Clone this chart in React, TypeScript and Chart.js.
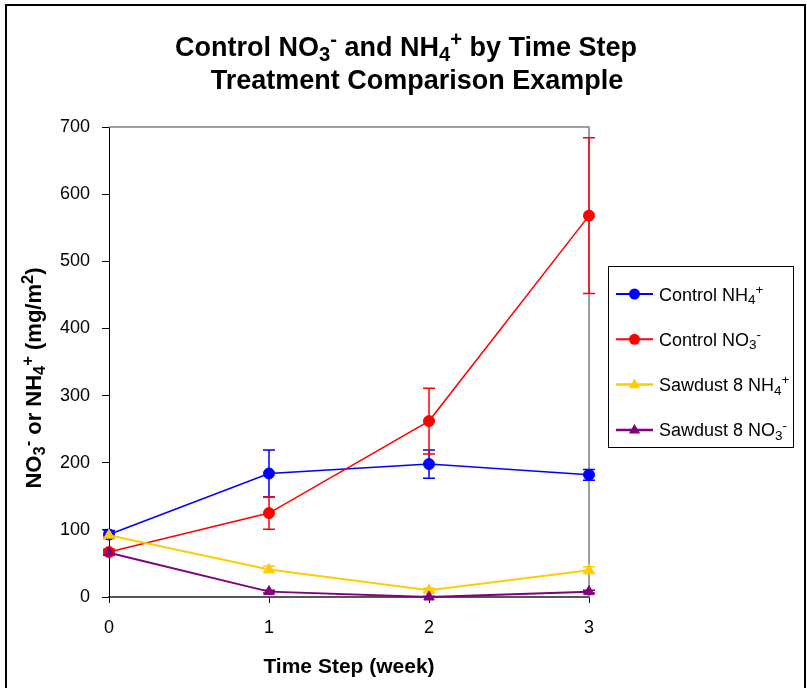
import React, { useEffect, useRef } from 'react';
import { Chart, registerables } from 'chart.js';

Chart.register(...registerables);

// ---- data ----
const timeSteps = ['0', '1', '2', '3'];
const yMin = 0;
const yMax = 700;
const yStep = 100;

const controlNH4 = [93, 184, 198, 182];
const controlNH4Err = [6, 35, 21, 8];
const controlNO3 = [67, 125, 262, 568];
const controlNO3Err = [4, 24, 49, 116];
const sawdustNH4 = [92, 41, 10, 40];
const sawdustNH4Err = [4, 5, 3, 5];
const sawdustNO3 = [66, 8, 0, 8];
const sawdustNO3Err = [4, 2, 1, 2];

type Seg = { t: string; s?: 'sub' | 'sup' };

const seriesLabels: Seg[][] = [
  [{ t: 'Control NH' }, { t: '4', s: 'sub' }, { t: '+', s: 'sup' }],
  [{ t: 'Control NO' }, { t: '3', s: 'sub' }, { t: '-', s: 'sup' }],
  [{ t: 'Sawdust 8 NH' }, { t: '4', s: 'sub' }, { t: '+', s: 'sup' }],
  [{ t: 'Sawdust 8 NO' }, { t: '3', s: 'sub' }, { t: '-', s: 'sup' }],
];
const titleLine1: Seg[] = [
  { t: 'Control NO' }, { t: '3', s: 'sub' }, { t: '-', s: 'sup' },
  { t: ' and NH' }, { t: '4', s: 'sub' }, { t: '+', s: 'sup' }, { t: ' by Time Step' },
];
const titleLine2: Seg[] = [{ t: 'Treatment Comparison Example' }];
const yTitle: Seg[] = [
  { t: 'NO' }, { t: '3', s: 'sub' }, { t: '-', s: 'sup' }, { t: ' or NH' },
  { t: '4', s: 'sub' }, { t: '+', s: 'sup' }, { t: ' (mg/m' }, { t: '2', s: 'sup' }, { t: ')' },
];
const xTitle: Seg[] = [{ t: 'Time Step (week)' }];

const FONT = '"Liberation Sans", Arial, sans-serif';

function segFont(size: number, weight: string, s?: string) {
  const fs = s ? size * 0.75 : size;
  return `${weight} ${fs}px ${FONT}`;
}
function richWidth(ctx: CanvasRenderingContext2D, segs: Seg[], size: number, weight: string) {
  let w = 0;
  for (const sg of segs) {
    ctx.font = segFont(size, weight, sg.s);
    w += ctx.measureText(sg.t).width;
  }
  return w;
}
function drawRich(
  ctx: CanvasRenderingContext2D, segs: Seg[], x: number, y: number,
  size: number, weight: string, align: 'left' | 'center', color = '#000'
) {
  const w = richWidth(ctx, segs, size, weight);
  let cx = align === 'center' ? x - w / 2 : x;
  ctx.save();
  ctx.fillStyle = color;
  ctx.textAlign = 'left';
  ctx.textBaseline = 'alphabetic';
  for (const sg of segs) {
    ctx.font = segFont(size, weight, sg.s);
    const dy = sg.s === 'sub' ? size * 0.2 : sg.s === 'sup' ? -size * 0.38 : 0;
    ctx.fillText(sg.t, cx, y + dy);
    cx += ctx.measureText(sg.t).width;
  }
  ctx.restore();
}

function drawMarker(ctx: CanvasRenderingContext2D, style: string, x: number, y: number, r: number, color: string) {
  ctx.save();
  ctx.fillStyle = color;
  ctx.beginPath();
  if (style === 'triangle') {
    ctx.moveTo(x, y - r);
    ctx.lineTo(x + r * 0.95, y + r * 0.6);
    ctx.lineTo(x - r * 0.95, y + r * 0.6);
    ctx.closePath();
  } else {
    ctx.arc(x, y, r, 0, Math.PI * 2);
  }
  ctx.fill();
  ctx.restore();
}

const errorsBySeries = [controlNH4Err, controlNO3Err, sawdustNH4Err, sawdustNO3Err];

const decorPlugin = {
  id: 'decor',
  beforeDraw(chart: any) {
    const ctx = chart.ctx as CanvasRenderingContext2D;
    ctx.save();
    ctx.fillStyle = '#fff';
    ctx.fillRect(0, 0, chart.width, chart.height);
    ctx.restore();
  },
  beforeDatasetsDraw(chart: any) {
    const ctx = chart.ctx as CanvasRenderingContext2D;
    const a = chart.chartArea;
    ctx.save();
    ctx.strokeStyle = '#808080';
    ctx.lineWidth = 1.5;
    ctx.beginPath();
    ctx.moveTo(a.left, a.top);
    ctx.lineTo(a.right, a.top);
    ctx.lineTo(a.right, a.bottom);
    ctx.stroke();
    ctx.restore();
    // error bars
    const yScale = chart.scales.y;
    chart.data.datasets.forEach((ds: any, i: number) => {
      const meta = chart.getDatasetMeta(i);
      const errs = errorsBySeries[i];
      ctx.save();
      ctx.strokeStyle = ds.borderColor;
      ctx.lineWidth = 1.5;
      meta.data.forEach((pt: any, j: number) => {
        const v = ds.data[j];
        const e = errs[j];
        const yt = yScale.getPixelForValue(v + e);
        const yb = yScale.getPixelForValue(Math.max(v - e, yMin));
        const x = pt.x;
        ctx.beginPath();
        ctx.moveTo(x, yt); ctx.lineTo(x, yb);
        ctx.moveTo(x - 6, yt); ctx.lineTo(x + 6, yt);
        if (v - e >= yMin) { ctx.moveTo(x - 6, yb); ctx.lineTo(x + 6, yb); }
        ctx.stroke();
      });
      ctx.restore();
    });
  },
  afterDraw(chart: any) {
    const ctx = chart.ctx as CanvasRenderingContext2D;
    // outer frame
    ctx.save();
    ctx.strokeStyle = '#000';
    ctx.lineWidth = 2;
    ctx.strokeRect(6, 5, 799, 700);
    ctx.restore();
    // titles
    drawRich(ctx, titleLine1, 406, 56, 27, 'bold', 'center');
    drawRich(ctx, titleLine2, 417, 89, 27, 'bold', 'center');
    drawRich(ctx, xTitle, 349, 673, 21, 'bold', 'center');
    ctx.save();
    ctx.translate(41, 378);
    ctx.rotate(-Math.PI / 2);
    drawRich(ctx, yTitle, 0, 0, 22, 'bold', 'center');
    ctx.restore();
    // legend
    const lx = 608, ly = 266, lw = 185, lh = 181;
    ctx.save();
    ctx.strokeStyle = '#000';
    ctx.lineWidth = 1;
    ctx.strokeRect(lx + 0.5, ly + 0.5, lw, lh);
    ctx.restore();
    chart.data.datasets.forEach((ds: any, i: number) => {
      const y = 294 + i * 45.3;
      ctx.save();
      ctx.strokeStyle = ds.borderColor;
      ctx.lineWidth = ds.borderWidth + 0.5;
      ctx.beginPath();
      ctx.moveTo(616, y); ctx.lineTo(653, y);
      ctx.stroke();
      ctx.restore();
      drawMarker(ctx, ds.pointStyle, 634.5, y, ds.pointRadius, ds.borderColor);
      drawRich(ctx, seriesLabels[i], 659, y + 6.5, 18, 'normal', 'left');
    });
  },
};

export default function App() {
  const ref = useRef<HTMLCanvasElement>(null);
  useEffect(() => {
    if (!ref.current) return;
    const mk = (label: string, data: number[], color: string, style: string, r: number, bw: number, order: number) => ({
      label, data, borderColor: color, backgroundColor: color, pointBackgroundColor: color,
      pointBorderColor: color, pointStyle: style, pointRadius: r, pointBorderWidth: 1,
      borderWidth: bw, tension: 0, clip: false as any, order,
    });
    const chart = new Chart(ref.current, {
      type: 'line',
      data: {
        labels: timeSteps,
        datasets: [
          mk('Control NH4+', controlNH4, '#0000FF', 'circle', 5.5, 1.5, 4),
          mk('Control NO3-', controlNO3, '#FF0000', 'circle', 5.5, 1.5, 3),
          mk('Sawdust 8 NH4+', sawdustNH4, '#FFCC00', 'triangle', 6, 2, 2),
          mk('Sawdust 8 NO3-', sawdustNO3, '#800080', 'triangle', 6, 2, 1),
        ] as any,
      },
      plugins: [decorPlugin as any],
      options: {
        responsive: false,
        animation: false,
        devicePixelRatio: 1,
        layout: { padding: { left: 0, top: 127, right: 218, bottom: 0 } },
        plugins: {
          legend: { display: false },
          title: { display: false },
          tooltip: { enabled: false },
        },
        scales: {
          x: {
            type: 'category',
            offset: false,
            grid: { drawOnChartArea: false, tickLength: 6, color: '#000', offset: false },
            border: { color: '#555', width: 2 },
            ticks: { color: '#000', font: { family: FONT, size: 18 }, padding: 14, maxRotation: 0 },
            afterFit: (s: any) => { s.height = 91; },
          },
          y: {
            min: yMin,
            max: yMax,
            ticks: { stepSize: yStep, color: '#000', font: { family: FONT, size: 18 }, padding: 12 },
            grid: { drawOnChartArea: false, tickLength: 7, color: '#000' },
            border: { color: '#000', width: 1 },
            afterFit: (s: any) => { s.width = 109; },
          },
        },
      } as any,
    });
    return () => chart.destroy();
  }, []);
  return (
    <div style={{ position: 'absolute', left: 0, top: 0, width: 807, height: 688 }}>
      <canvas ref={ref} width={807} height={688} style={{ display: 'block', width: 807, height: 688 }} />
    </div>
  );
}
